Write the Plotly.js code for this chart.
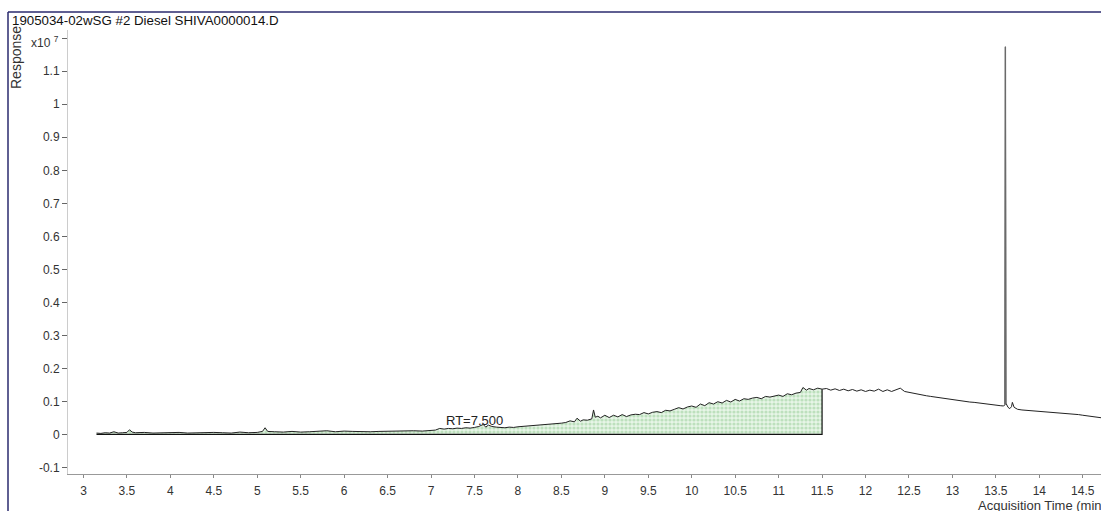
<!DOCTYPE html>
<html>
<head>
<meta charset="utf-8">
<script src="https://cdn.plot.ly/plotly-3.0.1.min.js"></script>
<style>html,body{margin:0;padding:0;background:#fff;}#chart{width:1101px;height:511px;}</style>
</head>
<body>
<div id="chart"></div>
<script>
// Acquisition time (min)
var time = [3.15,3.2,3.25,3.3,3.35,3.4,3.45,3.5,3.53,3.56,3.6,3.7,3.8,3.9,4.0,4.1,4.2,4.3,4.4,4.5,4.6,4.7,4.8,4.9,5.0,5.06,5.09,5.12,5.2,5.3,5.4,5.5,5.6,5.7,5.8,5.9,6.0,6.1,6.2,6.3,6.4,6.5,6.6,6.7,6.8,6.9,7.0,
7.05,7.1,7.15,7.2,7.25,7.3,7.35,7.4,7.45,7.5,7.55,7.6,7.63,7.66,7.7,7.75,7.8,7.85,7.9,7.95,8.0,8.05,8.1,8.15,8.2,8.25,8.3,8.35,8.4,8.45,8.5,8.55,8.6,8.65,8.68,8.72,8.75,8.8,8.85,8.87,8.89,8.92,8.95,9.0,9.05,9.1,9.15,9.2,9.25,9.3,9.35,9.4,9.45,9.5,9.55,9.6,9.65,9.7,9.75,9.8,9.85,9.9,9.95,10.0,10.05,10.1,10.15,10.2,10.25,10.3,10.35,10.4,10.45,10.5,10.55,10.6,10.65,10.7,10.75,10.8,10.85,10.9,10.95,11.0,11.05,11.1,11.15,11.2,11.25,11.28,11.32,11.35,11.4,11.45,11.5,
11.55,11.6,11.65,11.7,11.75,11.8,11.85,11.9,11.95,12.0,12.05,12.1,12.15,12.2,12.25,12.3,12.35,12.4,12.45,12.5,12.55,12.6,12.65,12.7,12.75,12.8,12.85,12.9,12.95,13.0,13.05,13.1,13.15,13.2,13.25,13.3,13.35,13.4,13.45,13.5,13.55,13.59,13.605,13.61,13.615,13.64,13.66,13.68,13.69,13.71,13.75,13.8,13.85,13.9,13.95,14.0,14.05,14.1,14.15,14.2,14.25,14.3,14.35,14.4,14.45,14.5,14.55,14.6,14.65,14.7,14.75];
// Response (x10^7)
var response = [0.004,0.003,0.005,0.004,0.008,0.004,0.005,0.006,0.014,0.007,0.005,0.006,0.004,0.005,0.004,0.006,0.004,0.005,0.004,0.006,0.005,0.004,0.007,0.005,0.006,0.009,0.020,0.009,0.008,0.007,0.009,0.007,0.008,0.009,0.011,0.008,0.010,0.009,0.008,0.008,0.009,0.010,0.011,0.010,0.011,0.010,0.012,
0.013,0.018,0.016,0.018,0.017,0.019,0.018,0.020,0.019,0.021,0.024,0.030,0.022,0.028,0.024,0.022,0.021,0.020,0.022,0.021,0.023,0.024,0.026,0.025,0.027,0.028,0.030,0.029,0.032,0.031,0.034,0.036,0.041,0.038,0.049,0.040,0.044,0.043,0.047,0.074,0.052,0.055,0.050,0.058,0.051,0.058,0.053,0.060,0.054,0.059,0.061,0.060,0.066,0.062,0.067,0.069,0.066,0.073,0.071,0.076,0.081,0.077,0.083,0.086,0.082,0.092,0.087,0.096,0.092,0.099,0.095,0.103,0.098,0.106,0.101,0.108,0.106,0.110,0.112,0.108,0.115,0.113,0.117,0.119,0.115,0.123,0.120,0.125,0.127,0.142,0.134,0.139,0.135,0.140,0.137,
0.139,0.134,0.138,0.133,0.137,0.132,0.136,0.131,0.135,0.130,0.134,0.131,0.137,0.130,0.135,0.130,0.134,0.140,0.130,0.127,0.124,0.121,0.119,0.117,0.115,0.113,0.111,0.109,0.107,0.104,0.103,0.101,0.100,0.098,0.097,0.095,0.094,0.092,0.090,0.089,0.087,0.086,0.090,1.174,0.095,0.082,0.078,0.084,0.097,0.082,0.076,0.074,0.073,0.072,0.072,0.071,0.070,0.069,0.068,0.067,0.066,0.065,0.063,0.062,0.060,0.058,0.056,0.054,0.052,0.050,0.049];

var integStart = 3.15, integEnd = 11.5;
var spikeStart = 13.6, spikeEnd = 13.62;
var rtLabel = 'RT=7.500', rtValue = 7.5;

var yTicks = [-0.1,0,0.1,0.2,0.3,0.4,0.5,0.6,0.7,0.8,0.9,1.0,1.1,1.2];
var yTickText = ['-0.1','0','0.1','0.2','0.3','0.4','0.5','0.6','0.7','0.8','0.9','1','1.1',''];
var xTicks = [3,3.5,4,4.5,5,5.5,6,6.5,7,7.5,8,8.5,9,9.5,10,10.5,11,11.5,12,12.5,13,13.5,14,14.5];
var xTickText = ['3','3.5','4','4.5','5','5.5','6','6.5','7','7.5','8','8.5','9','9.5','10','10.5','11','11.5','12','12.5','13','13.5','14','14.5'];

var fx = [], fy = [], sx = [], sy = [];
for (var i = 0; i < time.length; i++) {
  if (time[i] >= integStart && time[i] <= integEnd) { fx.push(time[i]); fy.push(response[i]); }
  if (time[i] >= spikeStart && time[i] <= spikeEnd) { sx.push(time[i]); sy.push(response[i]); }
}
var endY = fy[fy.length - 1];

var traces = [
  {x: fx, y: fy, type: 'scatter', mode: 'lines', fill: 'tozeroy', line: {width: 0, color: 'rgba(0,0,0,0)'},
   fillcolor: '#e4f4e4', fillpattern: {shape: '.', fgcolor: '#bde0bd', bgcolor: '#e8f6e8', size: 4, solidity: 0.5}, hoverinfo: 'skip'},
  {x: [integStart, integEnd, integEnd], y: [0, 0, endY], type: 'scatter', mode: 'lines', line: {color: '#111', width: 1.2}, hoverinfo: 'skip'},
  {x: time, y: response, type: 'scatter', mode: 'lines', line: {color: '#222', width: 1}},
  {x: sx, y: sy, type: 'scatter', mode: 'lines', line: {color: '#6a6a6a', width: 1.3}}
];

var layout = {
  width: 1101, height: 511,
  margin: {l: 68, r: 0, t: 30, b: 37},
  paper_bgcolor: '#fff', plot_bgcolor: '#fff',
  showlegend: false,
  font: {family: 'Liberation Sans, Arial, sans-serif', size: 12, color: '#333'},
  xaxis: {range: [2.822, 14.71], tickvals: xTicks, ticktext: xTickText, ticks: 'outside', ticklen: 3, tickcolor: '#888',
          showline: true, linecolor: '#999', linewidth: 1, showgrid: false, zeroline: false,
          tickfont: {size: 12, color: '#333'}, ticklabelstandoff: 3},
  yaxis: {range: [-0.12, 1.225], tickvals: yTicks, ticktext: yTickText, ticks: 'outside', ticklen: 5, tickcolor: '#666',
          showline: true, linecolor: '#ccc', linewidth: 1, showgrid: false, zeroline: false,
          tickfont: {size: 12, color: '#333'}},
  annotations: [
    {text: '1905034-02wSG #2 Diesel SHIVA0000014.D', xref: 'paper', yref: 'paper', x: (10 - 68) / 1033, y: (474 - 20) / 444,
     xanchor: 'left', yanchor: 'middle', showarrow: false, font: {size: 13.3, color: '#111'}},
    {text: 'Response', textangle: -90, xref: 'paper', yref: 'paper', x: (16 - 68) / 1033, y: (474 - 58) / 444,
     xanchor: 'center', yanchor: 'middle', showarrow: false, font: {size: 14, color: '#333'}},
    {text: 'x10 <sup>7</sup>', xref: 'paper', yref: 'y', x: (61 - 68) / 1033, y: 1.19,
     xanchor: 'right', yanchor: 'middle', showarrow: false, font: {size: 12, color: '#333'}},
    {text: rtLabel, xref: 'x', yref: 'y', x: rtValue, y: 0.041, xanchor: 'center', yanchor: 'middle', showarrow: false,
     font: {size: 13, color: '#222'}},
    {text: 'Acquisition Time (min)', xref: 'paper', yref: 'paper', x: (976 - 68) / 1033, y: (474 - 505) / 444,
     xanchor: 'left', yanchor: 'middle', showarrow: false, font: {size: 13, color: '#333'}}
  ],
  shapes: [
    {type: 'line', xref: 'paper', yref: 'paper', x0: (8 - 68) / 1033, x1: (8 - 68) / 1033, y0: (474 - 12) / 444, y1: -0.2,
     line: {color: '#2a2a6e', width: 1.5}},
    {type: 'line', xref: 'paper', yref: 'paper', x0: (8 - 68) / 1033, x1: 1.05, y0: (474 - 12) / 444, y1: (474 - 12) / 444,
     line: {color: '#2a2a6e', width: 1.5}}
  ]
};

Plotly.newPlot('chart', traces, layout, {staticPlot: true, displayModeBar: false});
</script>
</body>
</html>
